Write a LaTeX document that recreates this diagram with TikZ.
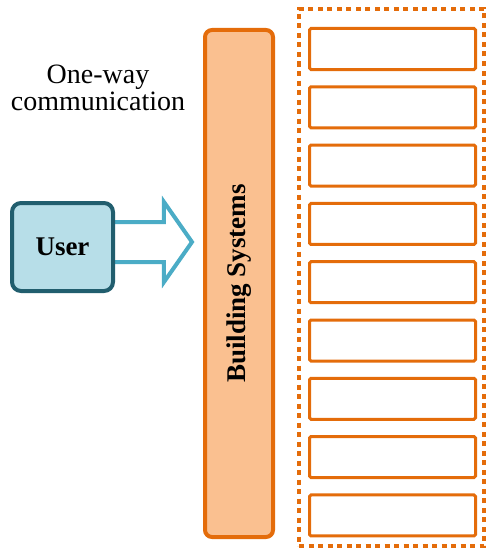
\documentclass[tikz,border=0pt]{standalone}
\usepackage{fontspec}
\setmainfont{Liberation Serif}
\usetikzlibrary{positioning,shapes.arrows}
\definecolor{orline}{HTML}{E46C0A}
\definecolor{orfill}{HTML}{FAC090}
\definecolor{userline}{HTML}{215E6E}
\definecolor{userfill}{HTML}{B7DEE8}
\definecolor{arrline}{HTML}{4BACC6}
\begin{document}
\begin{tikzpicture}[x=1pt,y=-1pt,
  txt/.style={font=\fontsize{28}{27}\selectfont},
  btxt/.style={font=\fontsize{27}{28}\selectfont\bfseries},
  slot/.style={draw=orline,line width=3pt,shape=rectangle,rounded corners=1.5pt,minimum width=166pt,minimum height=41pt,inner sep=0pt}]
\useasboundingbox (0,0) rectangle (489,551);
\node [draw=orline,line width=4pt,dash pattern=on 5pt off 4.5pt,shape=rectangle,name=frame,minimum width=185pt,minimum height=537pt,inner sep=0pt] at (391.5,277.5){};
\foreach \i in {1,...,9}
  \node [slot,name=s\i] at (392.5,{49+(\i-1)*58.3}){};
\node [draw=orline,fill=orfill,line width=4pt,shape=rectangle,rounded corners=7pt,name=bs,minimum width=68pt,minimum height=507pt,inner sep=0pt] at (239,283.5){};
\node [btxt,rotate=90,name=bstext] at (bs.center){Building Systems};
\node [draw=arrline,fill=white,line width=4pt,shape=single arrow,single arrow head extend=20pt,single arrow tip angle=110,minimum height=80pt,minimum width=76pt,inner xsep=0pt,inner ysep=18pt,anchor=tail,name=arr] at (110,242){};
\node [draw=userline,fill=userfill,line width=4pt,shape=rectangle,rounded corners=9pt,minimum width=101pt,minimum height=88pt,btxt,name=user] at (62.5,247){User};
\node [txt,align=center,name=oneway] at (98,88){One-way\\communication};
\end{tikzpicture}
\end{document}
